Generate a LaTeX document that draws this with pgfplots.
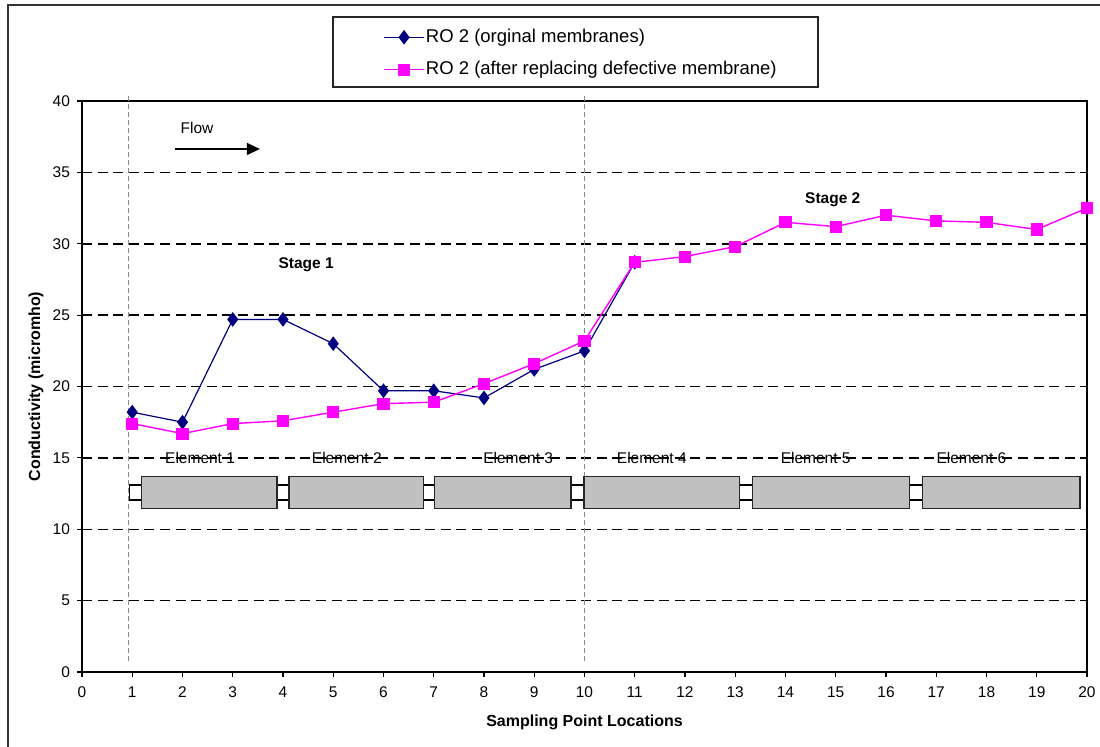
\documentclass[border=0pt]{standalone}
\usepackage{fontspec}
\setmainfont{Liberation Sans}
\usepackage{pgfplots}
\pgfplotsset{compat=1.18}
\usetikzlibrary{arrows.meta}
\definecolor{navyblue}{HTML}{000080}
\definecolor{pinkm}{HTML}{FF00FF}
\definecolor{boxgray}{HTML}{C0C0C0}
\tikzset{conn/.style={fill=white, line width=0.6pt}, elem/.style={fill=boxgray, line width=0.6pt, draw=black!85}}
\begin{document}
\begin{tikzpicture}
\useasboundingbox (-41pt,-37pt) rectangle (509pt,336pt);
\draw[line width=0.75pt, color=black!80] (-37pt,-40pt) -- (-37pt,333.5pt) -- (512pt,333.5pt);
\begin{axis}[
  at={(0,0)}, anchor=south west,
  scale only axis, width=502.5pt, height=285.5pt,
  xmin=0, xmax=20, ymin=0, ymax=40,
  xtick={0,1,...,20}, ytick={0,5,...,40},
  xtick pos=bottom, ytick pos=left,
  tick align=outside, major tick length=2.5pt,
  tick style={black, line width=0.6pt},
  axis line style={black, line width=0.75pt},
  ymajorgrids,
  grid style={black, line width=0.75pt, dash pattern=on 5pt off 2.8pt},
  /pgf/number format/assume math mode=true,
  ticklabel style={font=\fontsize{7.75}{9}\selectfont},
  xticklabel style={yshift=-1.5pt},
  clip=false,
  xlabel={\textbf{Sampling Point Locations}},
  ylabel={\textbf{Conductivity (micromho)}},
  every axis x label/.style={at={(axis description cs:0.5,-0.0876)}, anchor=center, font=\fontsize{8}{9.6}\selectfont},
  every axis y label/.style={at={(axis description cs:-0.0458,0.5)}, rotate=90, anchor=center, font=\fontsize{8}{9.6}\selectfont},
  legend style={draw=none, fill=none, at={(axis description cs:0.2995,1.0832)}, anchor=west,
    inner sep=0pt, row sep=6pt, font=\fontsize{9.25}{11}\selectfont,
    nodes={inner xsep=0.6pt, inner ysep=1pt}},
  legend cell align=left,
  legend image code/.code={\draw[mark repeat=2,mark phase=2,#1] plot coordinates {(0pt,0pt) (10pt,0pt) (20pt,0pt)};},
]
% stage separators
\draw[black!45, line width=0.7pt, dash pattern=on 2.5pt off 1.5pt] (axis cs:0.93,0.8) -- (axis cs:0.93,40.5);
\draw[black!45, line width=0.7pt, dash pattern=on 2.5pt off 1.5pt] (axis cs:10.0,0.8) -- (axis cs:10.0,40.5);

\addplot[color=navyblue, line width=0.6pt, mark=diamond*, mark size=3.2pt, mark options={solid, fill=navyblue}]
coordinates {(1,18.2) (2,17.5) (3,24.7) (4,24.7) (5,23.0) (6,19.7) (7,19.7) (8,19.2) (9,21.2) (10,22.5) (11,28.7)};
\addlegendentry{RO 2 (orginal membranes)}
\addplot[color=pinkm, line width=0.7pt, mark=square*, mark size=2.7pt, mark options={solid, fill=pinkm}]
coordinates {(1,17.4) (2,16.7) (3,17.4) (4,17.6) (5,18.2) (6,18.8) (7,18.9) (8,20.2) (9,21.6) (10,23.2)
 (11,28.7) (12,29.1) (13,29.8) (14,31.5) (15,31.2) (16,32.0) (17,31.6) (18,31.5) (19,31.0) (20,32.5)};
\addlegendentry{RO 2 (after replacing defective membrane)}

% membrane elements
\draw[conn] (axis cs:0.94,12.05) rectangle (axis cs:1.19,13.1);
\draw[conn] (axis cs:3.88,12.05) rectangle (axis cs:4.12,13.1);
\draw[conn] (axis cs:6.80,12.05) rectangle (axis cs:7.02,13.1);
\draw[conn] (axis cs:9.73,12.05) rectangle (axis cs:9.99,13.1);
\draw[conn] (axis cs:13.09,12.05) rectangle (axis cs:13.35,13.1);
\draw[conn] (axis cs:16.47,12.05) rectangle (axis cs:16.73,13.1);
\draw[elem] (axis cs:1.19,11.45) rectangle (axis cs:3.88,13.67);
\draw[elem] (axis cs:4.12,11.45) rectangle (axis cs:6.80,13.67);
\draw[elem] (axis cs:7.02,11.45) rectangle (axis cs:9.73,13.67);
\draw[elem] (axis cs:9.99,11.45) rectangle (axis cs:13.09,13.67);
\draw[elem] (axis cs:13.35,11.45) rectangle (axis cs:16.47,13.67);
\draw[elem] (axis cs:16.73,11.45) rectangle (axis cs:19.86,13.67);
\node[font=\fontsize{7.75}{9}\selectfont] at (axis cs:2.35,15) {Element 1};
\node[font=\fontsize{7.75}{9}\selectfont] at (axis cs:5.27,15) {Element 2};
\node[font=\fontsize{7.75}{9}\selectfont] at (axis cs:8.68,15) {Element 3};
\node[font=\fontsize{7.75}{9}\selectfont] at (axis cs:11.34,15) {Element 4};
\node[font=\fontsize{7.75}{9}\selectfont] at (axis cs:14.6,15) {Element 5};
\node[font=\fontsize{7.75}{9}\selectfont] at (axis cs:17.7,15) {Element 6};
\node[font=\fontsize{7.75}{9}\selectfont\bfseries] at (axis cs:4.46,28.5) {Stage 1};
\node[font=\fontsize{7.75}{9}\selectfont\bfseries] at (axis cs:14.94,33.08) {Stage 2};
\node[font=\fontsize{7.75}{9}\selectfont] at (axis cs:2.29,38.1) {Flow};
\draw[line width=0.7pt, -{Triangle[length=6.5pt,width=6pt]}] (axis cs:1.85,36.64) -- (axis cs:3.54,36.64);
\end{axis}
\draw[line width=0.75pt, black!85] (125.5pt,292.5pt) rectangle (368pt,327.5pt);
\end{tikzpicture}
\end{document}
